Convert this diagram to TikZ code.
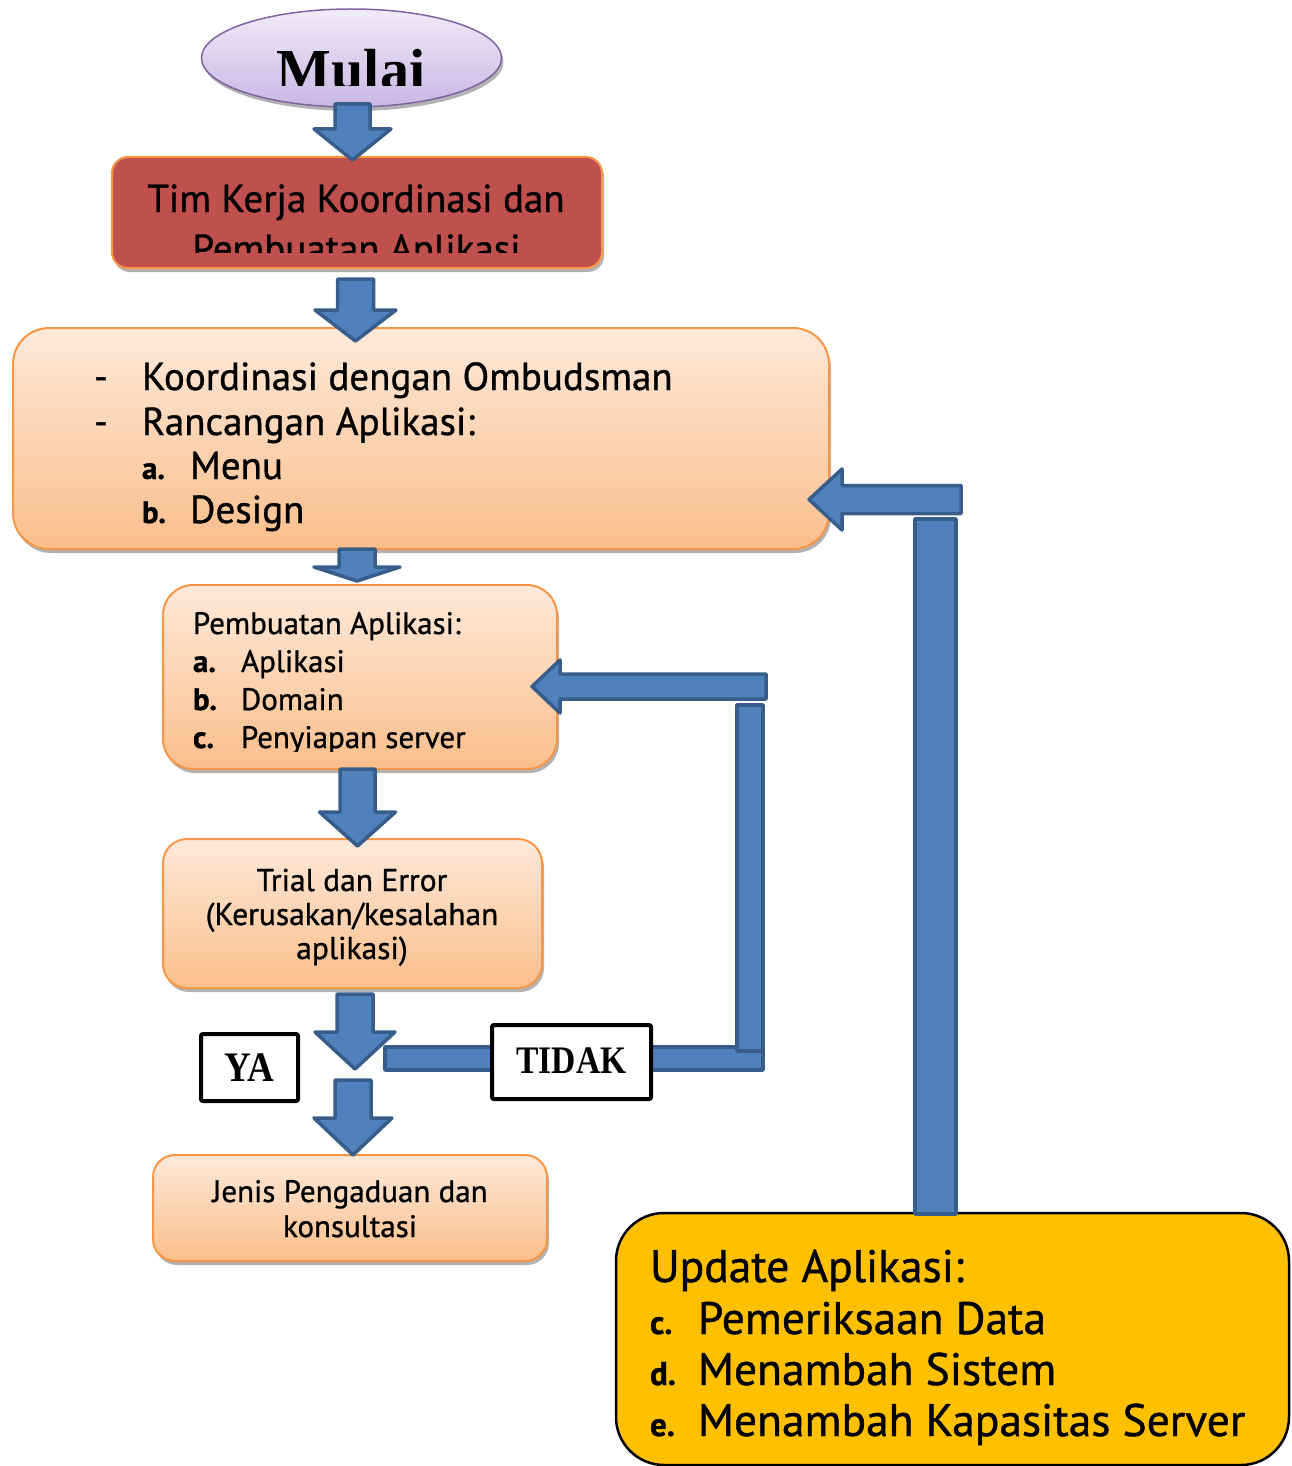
\documentclass[tikz,border=0pt]{standalone}
\usepackage{fontspec}
\setmainfont{PT Sans}[FakeBold=0.9]
\newfontfamily\headfont{Liberation Serif}
\usetikzlibrary{calc,shadows,shapes.geometric}

\definecolor{arrowfill}{HTML}{4F81BD}
\definecolor{arrowline}{HTML}{385D8A}
\definecolor{peachline}{HTML}{F79646}
\definecolor{peachtop}{HTML}{FDE9DA}
\definecolor{peachbot}{HTML}{FBBE8B}
\definecolor{brickred}{HTML}{C0504D}
\definecolor{amber}{HTML}{FFC000}
\definecolor{lavtop}{HTML}{F0EBF8}
\definecolor{lavbot}{HTML}{C8B8E4}
\definecolor{lavline}{HTML}{8064A2}

\newcommand{\fs}[1]{\fontsize{#1}{#1}\selectfont}

% downward block arrow: #1 shaft top, #2 tip, #3 half shaft, #4 half head, #5 head length
\newcommand{\blockdown}[5]{%
  \draw[blockarrow] let \p1=(#1), \p2=(#2) in
    (\x2,\y2) -- (\x2+#4,\y2+#5) -- (\x2+#3,\y2+#5) -- (\x2+#3,\y1)
    -- (\x2-#3,\y1) -- (\x2-#3,\y2+#5) -- (\x2-#4,\y2+#5) -- cycle;}
% leftward block arrow: #1 tip, #2 tail end, #3 half shaft, #4 half head, #5 head length
\newcommand{\blockleft}[5]{%
  \draw[blockarrow] let \p1=(#1), \p2=(#2) in
    (\x1,\y1) -- (\x1+#5,\y1+#4) -- (\x1+#5,\y1+#3) -- (\x2,\y1+#3)
    -- (\x2,\y1-#3) -- (\x1+#5,\y1-#3) -- (\x1+#5,\y1-#4) -- cycle;}

\tikzset{
  boxshadow/.style={drop shadow={shadow xshift=2pt, shadow yshift=-4pt, opacity=0.3, fill=black}},
  peachbox/.style={rectangle, draw=peachline, line width=2pt, top color=peachtop, bottom color=peachbot,
    inner sep=0pt, outer sep=0pt, anchor=north west, boxshadow},
  redbox/.style={rectangle, rounded corners=16pt, draw=peachline, line width=2pt, fill=brickred,
    inner sep=0pt, outer sep=0pt, anchor=north west, boxshadow},
  yellowbox/.style={rectangle, rounded corners=48pt, draw=black, line width=2.5pt, fill=amber,
    inner sep=0pt, outer sep=0pt, anchor=north west},
  startshape/.style={ellipse, draw=lavline, line width=1.5pt, top color=lavtop, bottom color=lavbot,
    inner sep=0pt, outer sep=0pt, boxshadow},
  tagbox/.style={rectangle, rounded corners=2pt, draw=black, line width=4pt, fill=white,
    inner sep=0pt, outer sep=0pt, anchor=north west},
  blockarrow/.style={draw=arrowline, fill=arrowfill, line width=3.5pt, line join=round},
  txt/.style={inner sep=0pt, outer sep=0pt, anchor=base west, text=black},
  ctxt/.style={inner sep=0pt, outer sep=0pt, anchor=base, text=black},
}

\begin{document}
\begin{tikzpicture}[x=1pt, y=-1pt]
\useasboundingbox (0,0) rectangle (1291,1466);

% ---------- boxes ----------
\node[startshape, minimum width=300pt, minimum height=98pt] (start) at (351.5,58) {};
\node[redbox, minimum width=490pt, minimum height=111pt] (team) at (112,157) {};
\node[peachbox, rounded corners=36pt, minimum width=816pt, minimum height=221pt] (plan) at (13,328) {};
\node[peachbox, rounded corners=30pt, minimum width=394pt, minimum height=184pt] (build) at (163,585) {};
\node[peachbox, rounded corners=24pt, minimum width=379pt, minimum height=149pt] (trial) at (163,839) {};
\node[peachbox, rounded corners=22pt, minimum width=394pt, minimum height=106pt] (jenis) at (153,1155) {};
\node[yellowbox, minimum width=673pt, minimum height=252pt] (update) at (616,1213) {};

% ---------- texts ----------
\begin{scope}
  \clip (200,0) rectangle (503,86);
  \node[ctxt] (starttxt) at (351,90) {\headfont\bfseries\fs{58}Mulai};
\end{scope}

\node[ctxt] (team1) at (356,212) {\fs{39}Tim Kerja Koordinasi dan};
\begin{scope}
  \clip (112,157) rectangle (602,252);
  \node[ctxt] (team2) at (356.5,262) {\fs{39}Pembuatan Aplikasi};
\end{scope}

\node[txt] (plandash1) at (94,390) {\fs{39}-};
\node[txt] (plan1) at (142,390) {\fs{39}Koordinasi dengan Ombudsman};
\node[txt] (plandash2) at (94,435) {\fs{39}-};
\node[txt] (plan2) at (142,435) {\fs{39}Rancangan Aplikasi:};
\node[txt] (plana) at (142,479) {\fs{31}\bfseries a.};
\node[txt] (plan3) at (190,479) {\fs{39}Menu};
\node[txt] (planb) at (142,523) {\fs{31}\bfseries b.};
\node[txt] (plan4) at (190,523) {\fs{39}Design};

\node[txt] (build0) at (193,634) {\fs{31}Pembuatan Aplikasi:};
\node[txt] (builda) at (193,672) {\fs{31}\bfseries a.};
\node[txt] (build1) at (241,672) {\fs{31}Aplikasi};
\node[txt] (buildb) at (193,710) {\fs{31}\bfseries b.};
\node[txt] (build2) at (241,710) {\fs{31}Domain};
\node[txt] (buildc) at (193,748) {\fs{31}\bfseries c.};
\begin{scope}
  \clip (230,700) rectangle (550,751);
  \node[txt] (build3) at (241,748) {\fs{31}Penyiapan server};
\end{scope}

\node[ctxt] (trial1) at (352,891) {\fs{31.5}Trial dan Error};
\node[ctxt] (trial2) at (352,925) {\fs{31.5}(Kerusakan/kesalahan};
\node[ctxt] (trial3) at (352,959) {\fs{31.5}aplikasi)};

\node[ctxt] (jenis1) at (350,1202) {\fs{31}Jenis Pengaduan dan};
\node[ctxt] (jenis2) at (350,1237) {\fs{31}konsultasi};

\node[txt] (update0) at (650,1282) {\fs{45.5}Update Aplikasi:};
\node[txt] (updatec) at (650,1334) {\fs{33}\bfseries c.};
\node[txt] (update1) at (698,1334) {\fs{45.5}Pemeriksaan Data};
\node[txt] (updated) at (650,1385) {\fs{33}\bfseries d.};
\node[txt] (update2) at (698,1385) {\fs{45.5}Menambah Sistem};
\node[txt] (updatee) at (650,1436) {\fs{33}\bfseries e.};
\node[txt] (update3) at (698,1436) {\fs{45.5}Menambah Kapasitas Server};

% ---------- main flow arrows ----------
\coordinate (split) at (355,1074);
\blockdown{$(start.south)+(0,-3)$}{$(start.south -| 352.5,0)+(0,53)$}{17.5pt}{38.5pt}{31pt}
\blockdown{$(team.south)+(0,11)$}{$(team.south -| 355.5,0)+(0,73)$}{18pt}{40.5pt}{31pt}
\blockdown{$(plan.south)+(0,0)$}{$(plan.south -| 357,0)+(0,32)$}{18pt}{43pt}{14pt}
\blockdown{$(build.south)+(0,0)$}{$(build.south -| 357.5,0)+(0,77)$}{17.5pt}{38pt}{34pt}
\blockdown{$(trial.south)+(0,6)$}{$(split)+(0,-5)$}{18pt}{40pt}{37pt}
\blockdown{$(split)+(0,6)$}{$(jenis.north -| 353,0)$}{18pt}{39pt}{37pt}

% ---------- loop back from TIDAK ----------
\coordinate (noTail) at (385,1047);
\coordinate (noCorner) at (763,1070);
\draw[blockarrow] (noTail) rectangle (noCorner);
\draw[blockarrow] (737,705) rectangle (noCorner |- 0,1051);
\blockleft{$(build.east)+(-25,9.5)$}{766,686.5}{12.5pt}{26.5pt}{28pt}

% ---------- loop back from update ----------
\draw[blockarrow] (915,519) rectangle ($(update.north -| 956,0)+(0,1)$);
\blockleft{$(plan.east)+(-20,61)$}{961,499}{14pt}{30.5pt}{33pt}

% ---------- decision tags ----------
\node[tagbox, minimum width=97pt, minimum height=67pt] (yes) at (201,1034)
  {\raisebox{-3.5pt}{\scalebox{0.88}[1]{\headfont\bfseries\fs{42}YA}}};
\node[tagbox, minimum width=159pt, minimum height=74pt] (no) at (492,1025)
  {\raisebox{3pt}{\scalebox{0.86}[1]{\headfont\bfseries\fs{39}TIDAK}}};
\end{tikzpicture}
\end{document}
